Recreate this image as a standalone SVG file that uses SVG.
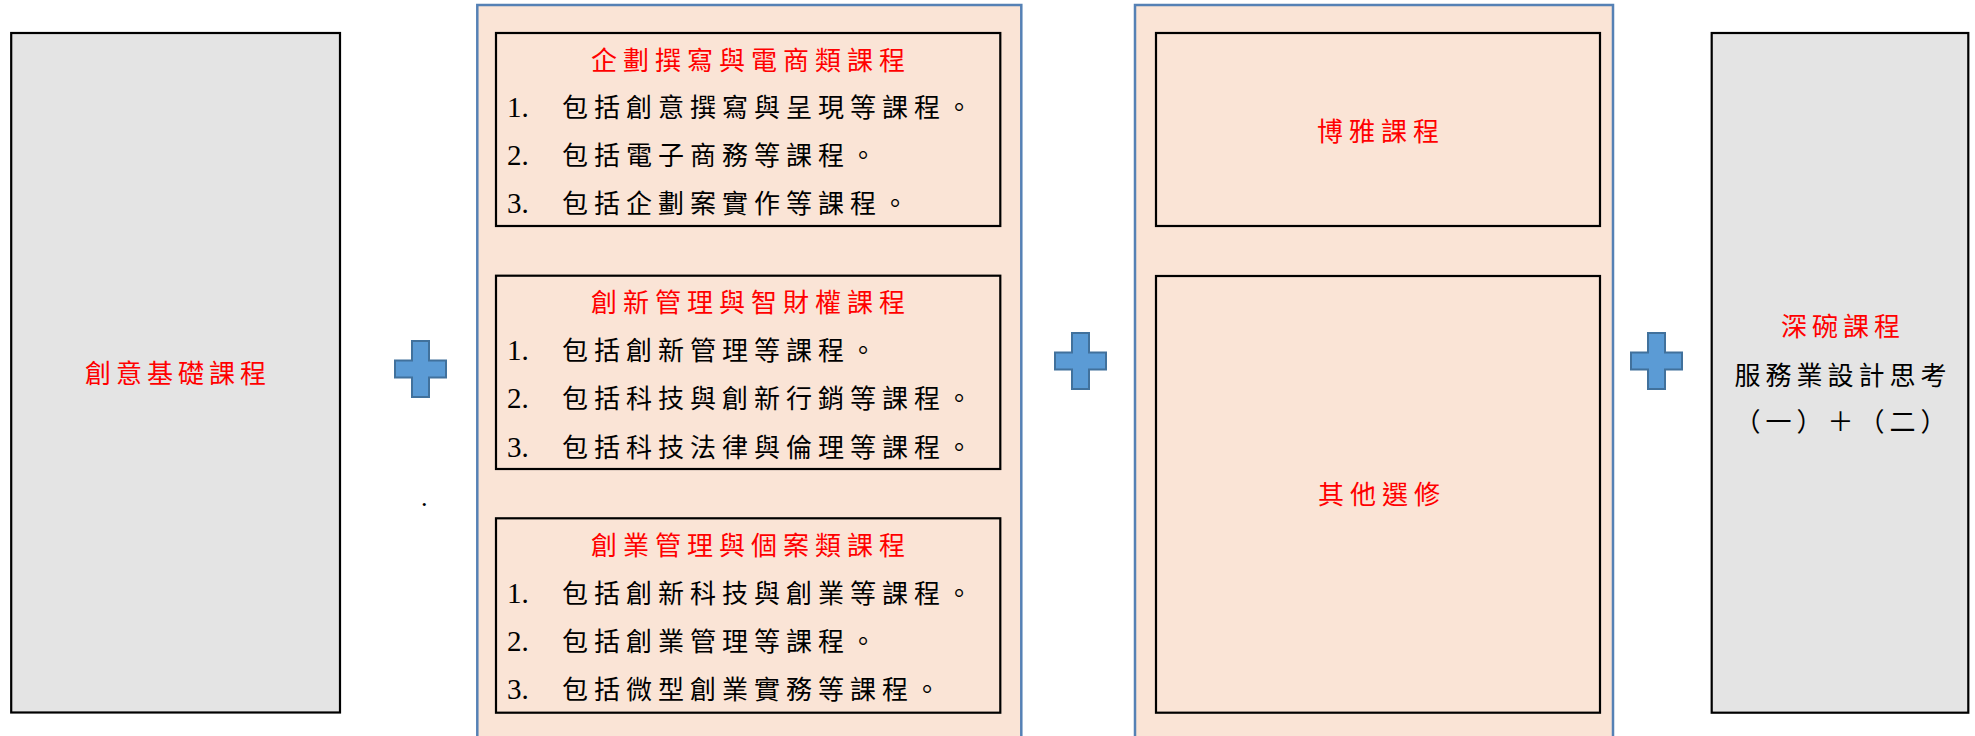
<svg xmlns="http://www.w3.org/2000/svg" xmlns:xlink="http://www.w3.org/1999/xlink" width="1975" height="736" viewBox="0 0 1975 736">
<style>
.panel{fill:#fae4d6;stroke:#5581b5;stroke-width:2.5}
.gray{fill:#e4e4e4;stroke:#000;stroke-width:2.2}
.box{fill:none;stroke:#000;stroke-width:2.2}
.plus{fill:#5b9bd5;stroke:#41719c;stroke-width:2}
text{font-family:"Liberation Serif","Noto Sans CJK TC",serif;font-size:26px}
.red{fill:#ff0000}
.blk{fill:#000}
.sp6{letter-spacing:6px}
.sp5{letter-spacing:5px}
.num{font-size:29px}
</style>
<defs>
<path id="plusShape" class="plus" d="M17,0 H34 V19.5 H51 V36.5 H34 V56 H17 V36.5 H0 V19.5 H17 Z"/>
</defs>
<rect width="1975" height="736" fill="#fff"/>

<g id="node-basic">
<rect class="gray" x="11.2" y="33" width="328.8" height="679.5"/>
<text class="red sp5" x="178" y="383" text-anchor="middle">創意基礎課程</text>
</g>

<g id="node-middle">
<rect class="panel" x="477.3" y="5" width="544" height="745"/>
<g id="node-planning">
<rect class="box" x="496" y="33" width="504.3" height="193"/>
<text class="red sp6" x="751" y="70" text-anchor="middle">企劃撰寫與電商類課程</text>
<text class="blk"><tspan class="num" x="507" y="117">1.</tspan><tspan class="sp6" x="562" y="117">包括創意撰寫與呈現等課程。</tspan></text>
<text class="blk"><tspan class="num" x="507" y="165">2.</tspan><tspan class="sp6" x="562" y="165">包括電子商務等課程。</tspan></text>
<text class="blk"><tspan class="num" x="507" y="213">3.</tspan><tspan class="sp6" x="562" y="213">包括企劃案實作等課程。</tspan></text>
</g>
<g id="node-innovation">
<rect class="box" x="496" y="275.7" width="504.3" height="193.3"/>
<text class="red sp6" x="751" y="312" text-anchor="middle">創新管理與智財權課程</text>
<text class="blk"><tspan class="num" x="507" y="360">1.</tspan><tspan class="sp6" x="562" y="360">包括創新管理等課程。</tspan></text>
<text class="blk"><tspan class="num" x="507" y="408">2.</tspan><tspan class="sp6" x="562" y="408">包括科技與創新行銷等課程。</tspan></text>
<text class="blk"><tspan class="num" x="507" y="457">3.</tspan><tspan class="sp6" x="562" y="457">包括科技法律與倫理等課程。</tspan></text>
</g>
<g id="node-startup">
<rect class="box" x="496" y="518.3" width="504.3" height="194.4"/>
<text class="red sp6" x="751" y="555" text-anchor="middle">創業管理與個案類課程</text>
<text class="blk"><tspan class="num" x="507" y="603">1.</tspan><tspan class="sp6" x="562" y="603">包括創新科技與創業等課程。</tspan></text>
<text class="blk"><tspan class="num" x="507" y="651">2.</tspan><tspan class="sp6" x="562" y="651">包括創業管理等課程。</tspan></text>
<text class="blk"><tspan class="num" x="507" y="699">3.</tspan><tspan class="sp6" x="562" y="699">包括微型創業實務等課程。</tspan></text>
</g>
</g>

<g id="node-general">
<rect class="panel" x="1135" y="5" width="478" height="745"/>
<g id="node-liberal">
<rect class="box" x="1156" y="33" width="444" height="193"/>
<text class="red sp6" x="1381" y="141" text-anchor="middle">博雅課程</text>
</g>
<g id="node-elective">
<rect class="box" x="1156" y="276" width="444" height="436.7"/>
<text class="red sp6" x="1382" y="504" text-anchor="middle">其他選修</text>
</g>
</g>

<g id="node-deep">
<rect class="gray" x="1711.7" y="33" width="256.6" height="679.7"/>
<text class="red sp5" x="1843" y="336" text-anchor="middle">深碗課程</text>
<text class="blk sp5" x="1843" y="385" text-anchor="middle">服務業設計思考</text>
<text class="blk sp5" x="1843" y="431" text-anchor="middle">（一）＋（二）</text>
</g>

<g id="connectors">
<use xlink:href="#plusShape" x="395" y="341"/>
<use xlink:href="#plusShape" x="1055" y="333"/>
<use xlink:href="#plusShape" x="1631" y="333"/>
</g>

<text class="blk" x="421" y="506">.</text>
</svg>
